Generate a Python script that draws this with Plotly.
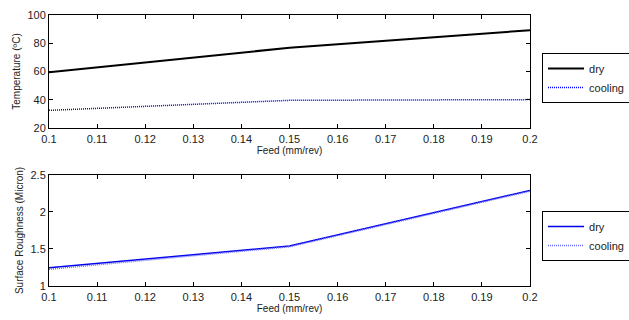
import plotly.graph_objects as go
from plotly.subplots import make_subplots

feed = [0.1, 0.15, 0.2]
temp_dry = [59.5, 76.8, 89.2]
temp_cooling = [32.5, 39.6, 40.1]
rough_dry = [1.245, 1.54, 2.29]
rough_cooling = [1.225, 1.53, 2.28]
x_ticks = [0.1, 0.11, 0.12, 0.13, 0.14, 0.15, 0.16, 0.17, 0.18, 0.19, 0.2]
x_ticklabels = ["0.1", "0.11", "0.12", "0.13", "0.14", "0.15", "0.16", "0.17", "0.18", "0.19", "0.2"]

fig = make_subplots(rows=2, cols=1)
fig.add_trace(go.Scatter(x=feed, y=temp_dry, mode="lines", name="dry",
                         line=dict(color="black", width=2), legend="legend"), row=1, col=1)
fig.add_trace(go.Scatter(x=feed, y=temp_cooling, mode="lines", name="cooling",
                         line=dict(color="blue", width=1.5, dash="1px,1px"), legend="legend"), row=1, col=1)
fig.add_trace(go.Scatter(x=feed, y=rough_dry, mode="lines", name="dry",
                         line=dict(color="#0000ee", width=1.5), legend="legend2"), row=2, col=1)
fig.add_trace(go.Scatter(x=feed, y=rough_cooling, mode="lines", name="cooling",
                         line=dict(color="#6a6aff", width=1.5, dash="1px,1px"), legend="legend2"), row=2, col=1)

axis_common = dict(showline=True, linecolor="black", linewidth=1, mirror="ticks",
                   ticks="inside", ticklen=4, tickcolor="black", showgrid=False,
                   zeroline=False, tickfont=dict(family="Liberation Sans, Arial", size=11, color="#222"))

fig.update_xaxes(**axis_common, range=[0.1, 0.2], tickvals=x_ticks, ticktext=x_ticklabels,
                 domain=[0, 1], ticklabelstandoff=1)
fig.update_xaxes(title=dict(text="Feed (mm/rev)", font=dict(size=10, color="#222"), standoff=1), row=1, col=1)
fig.update_xaxes(title=dict(text="Feed (mm/rev)", font=dict(size=10, color="#222"), standoff=1), row=2, col=1)
fig.update_yaxes(**axis_common)
fig.update_yaxes(range=[20, 100], tickvals=[20, 40, 60, 80, 100], domain=[0.583, 1],
                 title=dict(text="Temperature (ºC)", font=dict(size=10, color="#222"), standoff=4), row=1, col=1)
fig.update_yaxes(range=[1, 2.5], tickvals=[1, 1.5, 2, 2.5], domain=[0, 0.41],
                 title=dict(text="Surface Roughness (Micron)", font=dict(size=10, color="#222"), standoff=4), row=2, col=1)

legend_common = dict(bordercolor="black", borderwidth=1, bgcolor="white",
                     font=dict(family="Liberation Sans, Arial", size=11, color="#222"),
                     xanchor="left", yanchor="top", tracegroupgap=0, itemwidth=36)
fig.update_layout(
    width=629, height=320,
    margin=dict(l=49, r=99, t=15, b=34, autoexpand=False),
    plot_bgcolor="white", paper_bgcolor="white",
    font=dict(family="Liberation Sans, Arial", color="#222"),
    legend=dict(**legend_common, x=1.025, y=0.86),
    legend2=dict(**legend_common, x=1.025, y=0.277),
    showlegend=True,
)
fig.write_html("out.html", config={"displayModeBar": False},
               post_script="document.body.style.margin='0';document.body.style.overflow='hidden';")
